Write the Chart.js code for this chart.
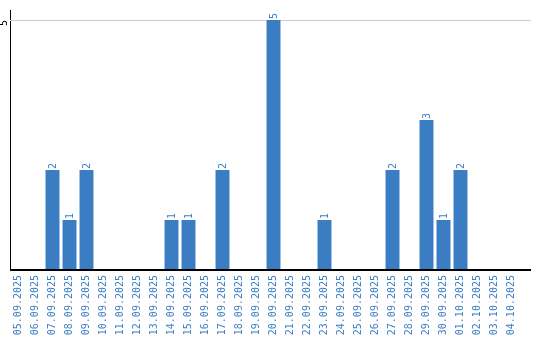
<!DOCTYPE html>
<html>
<head>
<meta charset="utf-8">
<script src="https://cdn.jsdelivr.net/npm/chart.js@4"></script>
<style>
  html, body { margin: 0; padding: 0; background: #fff; }
  canvas { display: block; }
</style>
</head>
<body>
<canvas id="dailyChart" width="540" height="340"></canvas>
<script>
// daily counts
const dates = ['05.09.2025', '06.09.2025', '07.09.2025', '08.09.2025', '09.09.2025', '10.09.2025',
    '11.09.2025', '12.09.2025', '13.09.2025', '14.09.2025', '15.09.2025', '16.09.2025',
    '17.09.2025', '18.09.2025', '19.09.2025', '20.09.2025', '21.09.2025', '22.09.2025',
    '23.09.2025', '24.09.2025', '25.09.2025', '26.09.2025', '27.09.2025', '28.09.2025',
    '29.09.2025', '30.09.2025', '01.10.2025', '02.10.2025', '03.10.2025', '04.10.2025'];
const counts = [0, 0, 2, 1, 2, 0, 0, 0, 0, 1, 1, 0, 2, 0, 0, 5, 0, 0, 1, 0, 0, 0, 2, 0, 3, 1, 2, 0, 0, 0];
const yTicks = [5];

const blue = '#3b7dc3';
const labelFont = '10px "DejaVu Sans Mono"';

// gridline, baseline extension, y tick and value labels
const extrasPlugin = {
    id: 'extras',
    beforeDatasetsDraw(chart) {
        const ctx = chart.ctx;
        const area = chart.chartArea;
        const y = chart.scales.y;
        ctx.save();
        ctx.strokeStyle = '#cccccc';
        ctx.lineWidth = 1;
        yTicks.forEach(function(v) {
            const py = Math.round(y.getPixelForValue(v)) + 0.5;
            ctx.beginPath();
            ctx.moveTo(area.left, py);
            ctx.lineTo(area.right + 11, py);
            ctx.stroke();
        });
        ctx.restore();
    },
    afterDatasetsDraw(chart) {
        const ctx = chart.ctx;
        const area = chart.chartArea;
        const y = chart.scales.y;
        ctx.save();
        // baseline
        ctx.strokeStyle = '#000';
        ctx.lineWidth = 2;
        const by = y.getPixelForValue(0);
        ctx.beginPath();
        ctx.moveTo(area.left, by);
        ctx.lineTo(area.right + 11, by);
        ctx.stroke();

        ctx.font = labelFont;
        ctx.fillStyle = '#000';
        // y tick labels
        yTicks.forEach(function(v) {
            ctx.save();
            ctx.translate(4, y.getPixelForValue(v));
            ctx.rotate(-Math.PI / 2);
            ctx.textAlign = 'right';
            ctx.textBaseline = 'middle';
            ctx.fillText(String(v), 0, 0);
            ctx.restore();
        });
        // value labels on bars
        ctx.fillStyle = blue;
        chart.getDatasetMeta(0).data.forEach(function(bar, i) {
            if (!counts[i]) return;
            ctx.save();
            ctx.translate(bar.x + 0.5, bar.y - 1);
            ctx.rotate(-Math.PI / 2);
            ctx.textAlign = 'left';
            ctx.textBaseline = 'middle';
            ctx.fillText(String(counts[i]), 0, 0);
            ctx.restore();
        });
        ctx.restore();
    }
};

const chartCtx = document.getElementById('dailyChart').getContext('2d');
new Chart(chartCtx, {
    type: 'bar',
    data: {
        labels: dates,
        datasets: [{
            data: counts,
            backgroundColor: blue,
            borderWidth: 0,
            barPercentage: 0.82,
            categoryPercentage: 1
        }]
    },
    options: {
        responsive: false,
        animation: false,
        devicePixelRatio: 1,
        layout: { padding: { top: 10, right: 20, left: 0, bottom: 0 } },
        plugins: {
            legend: { display: false },
            tooltip: { enabled: false }
        },
        scales: {
            x: {
                grid: { display: false, drawTicks: false },
                border: { display: false },
                ticks: {
                    color: blue,
                    font: { family: 'DejaVu Sans Mono', size: 10 },
                    minRotation: 90,
                    maxRotation: 90,
                    autoSkip: false,
                    padding: 5
                },
                afterFit: function(scale) { scale.height = 70; }
            },
            y: {
                min: 0,
                max: 5.2,
                grid: { display: false, drawTicks: false },
                border: { display: true, color: '#000', width: 1 },
                ticks: { display: false },
                afterFit: function(scale) { scale.width = 10; }
            }
        }
    },
    plugins: [extrasPlugin]
});
</script>
</body>
</html>
